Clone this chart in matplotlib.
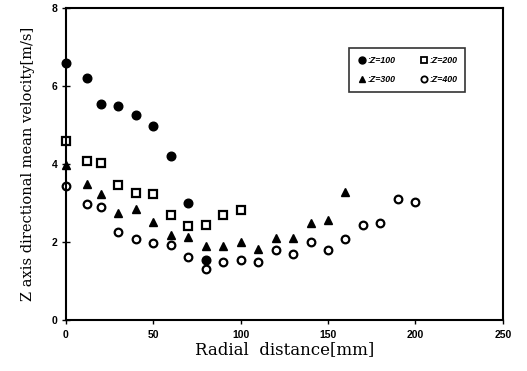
import matplotlib
matplotlib.use("Agg")
import matplotlib.pyplot as plt
from matplotlib.lines import Line2D

# Data
x100 = [0, 12, 20, 30, 40, 50, 60, 70, 80]
y100 = [6.6, 6.2, 5.55, 5.5, 5.25, 4.97, 4.2, 3.0, 1.55]

x200 = [0, 12, 20, 30, 40, 50, 60, 70, 80, 90, 100]
y200 = [4.6, 4.08, 4.02, 3.46, 3.27, 3.24, 2.69, 2.41, 2.44, 2.69, 2.82]

x300 = [0, 12, 20, 30, 40, 50, 60, 70, 80, 90, 100, 110, 120, 130, 140, 150, 160]
y300 = [3.98, 3.49, 3.23, 2.74, 2.85, 2.52, 2.19, 2.14, 1.91, 1.91, 2.0, 1.83, 2.1, 2.1, 2.5, 2.58, 3.29]

x400 = [0, 12, 20, 30, 40, 50, 60, 70, 80, 90, 100, 110, 120, 130, 140, 150, 160, 170, 180, 190, 200]
y400 = [3.44, 2.97, 2.89, 2.25, 2.07, 1.97, 1.92, 1.62, 1.31, 1.48, 1.54, 1.48, 1.79, 1.70, 2.0, 1.8, 2.07, 2.43, 2.5, 3.1, 3.03]

labels = [":Z=100", ":Z=200", ":Z=300", ":Z=400"]
xticks = [0, 50, 100, 150, 200, 250]
yticks = [0, 2, 4, 6, 8]

fig = plt.figure(figsize=(5.27, 3.71), dpi=100)
ax = fig.add_axes([0.125, 0.137, 0.829, 0.841])

ax.plot(x100, y100, 'o', ms=6.2, mfc='black', mec='black', ls='none', label=labels[0], clip_on=False)
ax.plot(x200, y200, 's', ms=5.5, mfc='white', mec='black', mew=1.6, ls='none', label=labels[1], clip_on=False)
ax.plot(x300, y300, '^', ms=6.2, mfc='black', mec='black', ls='none', label=labels[2], clip_on=False)
ax.plot(x400, y400, 'o', ms=5.5, mfc='white', mec='black', mew=1.6, ls='none', label=labels[3], clip_on=False)

ax.set_xlim(0, 250)
ax.set_ylim(0, 8)
ax.set_xticks(xticks)
ax.set_yticks(yticks)
for s in ax.spines.values():
    s.set_linewidth(1.5)
ax.tick_params(axis='x', direction='out', length=3, width=1, labelsize=7.5, pad=4)
ax.tick_params(axis='y', direction='inout', length=6, width=1, labelsize=7.5, pad=3)
for lab in ax.get_xticklabels() + ax.get_yticklabels():
    lab.set_fontfamily('Liberation Sans')
    lab.set_fontweight('bold')

ax.set_xlabel("Radial  distance[mm]", fontfamily='DejaVu Serif', fontsize=12, labelpad=1)
ax.set_ylabel("Z axis directional mean velocity[m/s]", fontfamily='DejaVu Serif', fontsize=10.5, labelpad=12)

handles = [
    Line2D([], [], marker='o', ms=5, mfc='black', mec='black', ls='none'),
    Line2D([], [], marker='^', ms=5, mfc='black', mec='black', ls='none'),
    Line2D([], [], marker='s', ms=4.5, mfc='white', mec='black', mew=1.3, ls='none'),
    Line2D([], [], marker='o', ms=4.5, mfc='white', mec='black', mew=1.3, ls='none'),
]
leg = ax.legend(handles, [labels[0], labels[2], labels[1], labels[3]], ncol=2,
                loc='upper left', bbox_to_anchor=(0.638, 0.885),
                prop={'family': 'Liberation Sans', 'style': 'italic', 'weight': 'bold', 'size': 6.3},
                frameon=True, fancybox=False, edgecolor='black', handletextpad=0.0,
                columnspacing=2.7, handlelength=1.2, borderpad=0.9, labelspacing=1.15)
leg.get_frame().set_linewidth(1.2)

fig.savefig("out.png", dpi=100)
